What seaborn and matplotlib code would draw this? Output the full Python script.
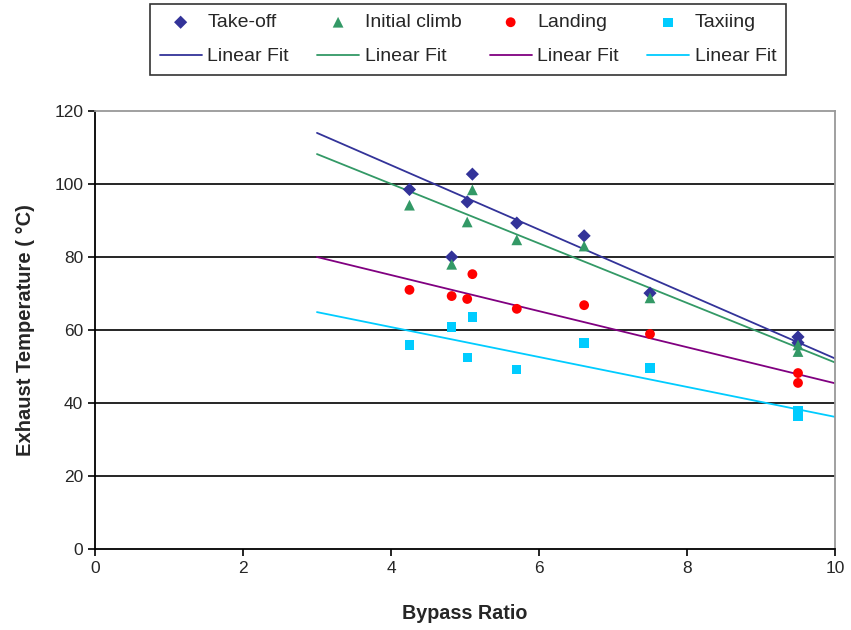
import numpy as np
import pandas as pd
import matplotlib
matplotlib.use("Agg")
import matplotlib.pyplot as plt
import seaborn as sns

# =====================================================
# DATA
# =====================================================

bypass = [4.25, 4.82, 5.03, 5.10, 5.70, 6.61, 7.50, 9.50, 9.50]

takeoff = [98.5, 80.0, 95.1, 102.7, 89.3, 85.8, 70.1, 58.1, 56.5]
climb = [94.2, 78.0, 89.6, 98.4, 84.7, 83.0, 68.8, 55.9, 54.1]
landing = [71.0, 69.3, 68.5, 75.3, 65.8, 66.8, 58.9, 48.2, 45.5]
taxiing = [55.9, 60.8, 52.4, 63.6, 49.1, 56.4, 49.6, 38.0, 36.4]

series_names = ["Take-off", "Initial climb", "Landing", "Taxiing"]
series_values = [takeoff, climb, landing, taxiing]

# linear fit lines as drawn (read at x = 3 and x = 10)
fit_x = [3.0, 10.0]
fit_start = [114.0, 108.2, 80.0, 64.9]
fit_end = [52.2, 51.1, 45.4, 36.2]

marker_colors = ["#333399", "#339966", "#FF0000", "#00CCFF"]
line_colors = ["#333399", "#339966", "#800080", "#00CCFF"]
markers = ["D", "^", "o", "s"]
marker_sizes = [45, 60, 50, 45]

# =====================================================
# PLOT
# =====================================================

sns.set_style("white")
plt.rcParams["font.family"] = ["Liberation Sans", "DejaVu Sans"]

fig = plt.figure(figsize=(8.51, 6.30), dpi=100)
ax = fig.add_axes([0.1116, 0.1286, 0.8696, 0.6952])

handles = []

for i, name in enumerate(series_names):
    df = pd.DataFrame({"x": bypass, "y": series_values[i]})

    sns.scatterplot(
        data=df, x="x", y="y", ax=ax,
        marker=markers[i], color=marker_colors[i],
        s=marker_sizes[i], edgecolor="none",
        zorder=3,
    )
    pt = ax.collections[-1]

    fit_df = pd.DataFrame({"x": fit_x, "y": [fit_start[i], fit_end[i]]})

    sns.lineplot(
        data=fit_df, x="x", y="y", ax=ax,
        color=line_colors[i], linewidth=1.3, zorder=2,
    )
    ln = ax.lines[-1]

    handles.append((pt, name))
    handles.append((ln, "Linear Fit"))

# axes styling
ax.set_xlim(0, 10)
ax.set_ylim(0, 120)
ax.set_xticks(range(0, 11, 2))
ax.set_yticks(range(0, 121, 20))

for yv in range(20, 101, 20):
    ax.axhline(yv, color="black", linewidth=1.2, zorder=1)

ax.spines["left"].set_color("black")
ax.spines["bottom"].set_color("black")
ax.spines["top"].set_color("#999999")
ax.spines["right"].set_color("#999999")
for sp in ax.spines.values():
    sp.set_linewidth(1.3)

ax.tick_params(
    axis="both", direction="out", length=5, width=1.2,
    labelsize=12.5, color="black", left=True, bottom=True,
)

ax.set_xlabel("Bypass Ratio", fontsize=14.2, fontweight="bold", labelpad=20)
ax.set_ylabel("Exhaust Temperature ( \u00b0C)", fontsize=14.5,
              fontweight="bold", labelpad=14)

# legend, column-major order for 4 columns
leg = fig.legend(
    [h for h, _ in handles],
    [l for _, l in handles],
    ncol=4,
    loc="upper left",
    bbox_to_anchor=(150 / 851, 1 - 4 / 630),
    borderaxespad=0,
    fontsize=14,
    frameon=True,
    fancybox=False,
    edgecolor="black",
    handlelength=2.15,
    handletextpad=0.3,
    columnspacing=1.45,
    borderpad=0.5,
    labelspacing=0.85,
)
leg.get_frame().set_linewidth(1.2)

fig.savefig("out.png", dpi=100)
plt.close(fig)
